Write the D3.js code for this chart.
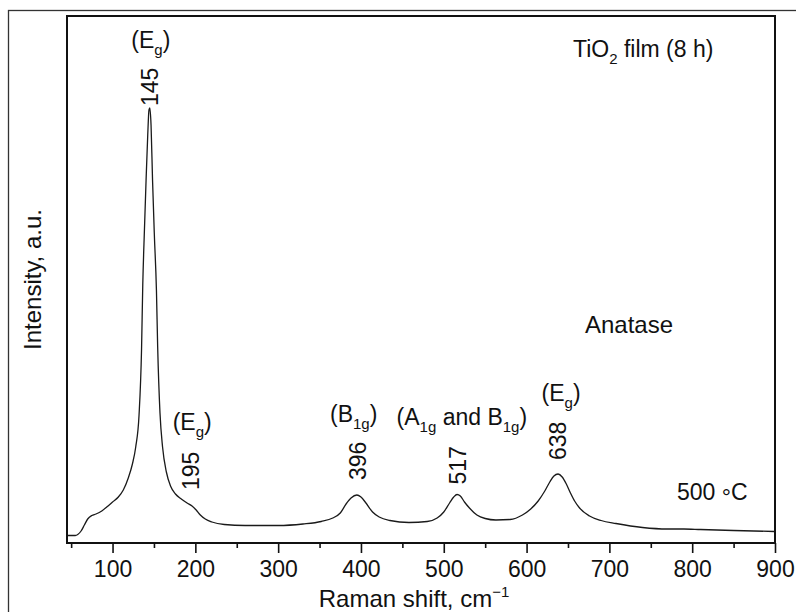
<!DOCTYPE html>
<html>

<head>
    <script src="https://d3js.org/d3.v7.min.js"></script>
    <style>
        body {
            margin: 0;
            background: #fff;
        }

        svg text {
            font-family: "Liberation Sans", Arial, sans-serif;
            fill: #111;
        }

        .curve {
            fill: none;
            stroke: #1a1a1a;
            stroke-width: 1.3px;
        }
    </style>
</head>

<body>
    <div id="chart"></div>

    <script>
        // Raman spectrum (shift in cm-1, intensity in a.u.)
        const shift = [45, 55, 58, 62, 66, 70, 75, 80, 87, 93, 100, 107, 113, 119, 124, 128, 132, 135, 136.5,
            138.5, 140.5, 142.5, 144, 145, 146.5, 148.3, 150.5, 153, 154.5, 157.3, 160.4, 165, 170, 176, 183,
            190, 196, 201, 206, 212, 220, 235, 260, 300, 330, 352, 366, 375, 382, 388, 395, 400, 406, 414, 422,
            435, 458, 480, 492, 500, 507, 512, 516, 520, 525, 531, 540, 550, 563, 580, 595, 605, 614, 622, 628,
            633, 638, 643, 648, 653, 658, 664, 676, 690, 708, 740, 770, 790, 810, 850, 900];
        const intensity = [7.5, 7.5, 8.5, 12, 18, 24, 27.5, 29, 32, 36, 41, 46, 53, 65, 79, 96, 128, 193, 258,
            313, 363, 408, 433, 435, 418, 363, 308, 253, 196, 130, 96, 71, 57, 49, 44,
            40, 37, 33, 28, 24, 21, 18.5, 17.5, 17.5, 19, 21.5, 25, 30, 39, 45, 48, 46, 40, 31, 26,
            22.5, 20.5, 21.5, 25, 31, 40, 46, 48.5, 47, 41, 35, 28, 24.5, 23, 23.5, 28, 34, 42, 52, 61,
            67, 69, 66, 59, 50, 42, 35, 27, 22.5, 19.5, 15.5, 14, 14, 13.5, 12.5, 11.5];

        // labelled peaks
        const peaks = [145, 195, 396, 517, 638];
        const peakHeight = [435, 37, 48, 48.5, 69];
        const modes = [["(E", "g", ")"], ["(E", "g", ")"], ["(B", "1g", ")"],
            ["(A", "1g", " and B", "1g", ")"], ["(E", "g", ")"]];

        const majorTicks = [100, 200, 300, 400, 500, 600, 700, 800, 900];
        const minorTicks = [50, 150, 250, 350, 450, 550, 650, 750, 850];

        const width = 796;
        const height = 612;
        const margin = { top: 16, right: 21, bottom: 69, left: 67 };

        const svg = d3.select('#chart').append('svg')
            .attr('width', width)
            .attr('height', height);

        // thin outer border of the figure
        svg.append('rect')
            .attr('x', 8.5).attr('y', 10.5)
            .attr('width', 820).attr('height', 640)
            .attr('fill', 'none')
            .attr('stroke', '#333')
            .attr('stroke-width', 1.3);

        const x = d3.scaleLinear().domain([45, 900]).range([margin.left, width - margin.right]);
        const y = d3.scaleLinear().domain([0, 527]).range([height - margin.bottom, margin.top]);

        const points = shift.map((s, i) => [s, intensity[i]]);

        const line = d3.line()
            .x(d => x(d[0]))
            .y(d => y(d[1]))
            .curve(d3.curveMonotoneX);

        svg.append('path')
            .datum(points)
            .attr('class', 'curve')
            .attr('d', line);

        // axis ticks
        const axisY = height - margin.bottom;
        const major = svg.append('g')
            .attr('transform', `translate(0,${axisY})`)
            .call(d3.axisBottom(x).tickValues(majorTicks).tickSize(10).tickFormat(d3.format('d')));
        major.select('.domain').remove();
        major.selectAll('line').attr('stroke', '#111').attr('stroke-width', 1.6);
        major.selectAll('text')
            .attr('y', 34).attr('dy', 0)
            .style('font-size', '23px');

        const minor = svg.append('g')
            .attr('transform', `translate(0,${axisY})`)
            .call(d3.axisBottom(x).tickValues(minorTicks).tickSize(5).tickFormat(''));
        minor.select('.domain').remove();
        minor.selectAll('line').attr('stroke', '#111').attr('stroke-width', 1.6);

        // plot frame
        svg.append('rect')
            .attr('x', margin.left).attr('y', margin.top)
            .attr('width', width - margin.left - margin.right)
            .attr('height', height - margin.top - margin.bottom)
            .attr('fill', 'none')
            .attr('stroke', '#111')
            .attr('stroke-width', 2);

        // peak numbers (rotated) and mode labels
        const numGap = [2, 16, 15, 10, 14];
        const modeBase = [48, 430, 422, 425, 401];
        const modeShift = [1, 1, -4, 4, 3];

        peaks.forEach((p, i) => {
            const px = x(p);
            const py = y(peakHeight[i]) - numGap[i];
            svg.append('text')
                .attr('transform', `translate(${px},${py}) rotate(-90)`)
                .attr('dy', '0.36em')
                .style('font-size', '23px')
                .text(p);

            const t = svg.append('text')
                .attr('x', px + modeShift[i])
                .attr('y', modeBase[i])
                .attr('text-anchor', 'middle')
                .style('font-size', '23px');
            modes[i].forEach((part, j) => {
                const sub = j % 2 === 1;
                const prevSub = j > 0 && (j - 1) % 2 === 1;
                t.append('tspan')
                    .attr('dy', sub ? 7 : (prevSub ? -7 : 0))
                    .style('font-size', sub ? '15px' : '23px')
                    .text(part);
            });
        });

        // other annotations
        const title = svg.append('text')
            .attr('x', 573).attr('y', 57)
            .style('font-size', '23px');
        title.append('tspan').text('TiO');
        title.append('tspan').attr('dy', 7).style('font-size', '15px').text('2');
        title.append('tspan').attr('dy', -7).text(' film (8 h)');

        svg.append('text')
            .attr('x', 585).attr('y', 333)
            .style('font-size', '24px')
            .text('Anatase');

        const temp = svg.append('text')
            .attr('x', 677).attr('y', 500)
            .style('font-size', '23px');
        temp.append('tspan').text('500 ');
        temp.append('tspan').attr('dy', 5).text('°');
        temp.append('tspan').attr('dy', -5).text('C');

        // axis titles
        const xt = svg.append('text')
            .attr('x', 414).attr('y', 607)
            .attr('text-anchor', 'middle')
            .style('font-size', '24px');
        xt.append('tspan').text('Raman shift, cm');
        xt.append('tspan').attr('dy', -10).style('font-size', '15px').text('\u22121');

        svg.append('text')
            .attr('transform', `translate(41,${(margin.top + axisY) / 2}) rotate(-90)`)
            .attr('text-anchor', 'middle')
            .style('font-size', '24px')
            .text('Intensity, a.u.');
    </script>
</body>

</html>
